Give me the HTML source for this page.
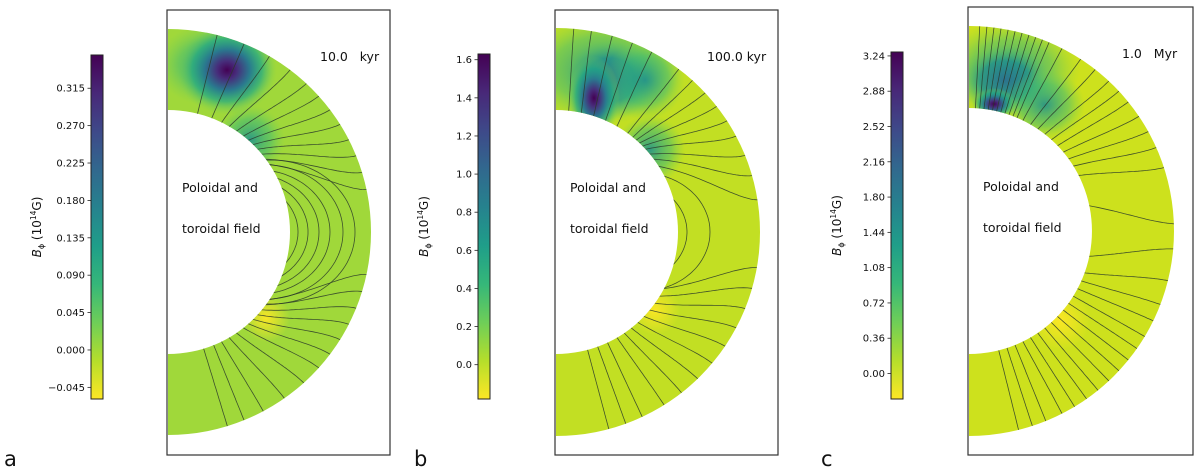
<!DOCTYPE html>
<html><head><meta charset="utf-8"><style>
html,body{margin:0;padding:0;background:#fff;width:1200px;height:474px;overflow:hidden}
svg{display:block}
text{font-family:"DejaVu Sans","Liberation Sans",sans-serif}
</style></head><body>
<svg id="fig" width="1200" height="474" viewBox="0 0 1200 474" xmlns="http://www.w3.org/2000/svg">
<defs>
<linearGradient id="viridis" x1="0" y1="1" x2="0" y2="0">
<stop offset="0" stop-color="#fde725"/><stop offset="0.111" stop-color="#b5de2b"/><stop offset="0.222" stop-color="#6ece58"/><stop offset="0.333" stop-color="#35b779"/><stop offset="0.444" stop-color="#1f9e89"/><stop offset="0.556" stop-color="#26828e"/><stop offset="0.667" stop-color="#31688e"/><stop offset="0.778" stop-color="#3e4989"/><stop offset="0.889" stop-color="#482878"/><stop offset="1" stop-color="#440154"/>
</linearGradient>
<radialGradient id="hot"><stop offset="0" stop-color="#440154"/><stop offset="0.2" stop-color="#472d7b"/><stop offset="0.45" stop-color="#2a788e"/><stop offset="0.7" stop-color="#22a884" stop-opacity="0.7"/><stop offset="1" stop-color="#7ad151" stop-opacity="0"/></radialGradient>
<radialGradient id="teal"><stop offset="0" stop-color="#21918c" stop-opacity="0.9"/><stop offset="0.6" stop-color="#35b779" stop-opacity="0.5"/><stop offset="1" stop-color="#6ece58" stop-opacity="0"/></radialGradient>
<radialGradient id="deep"><stop offset="0" stop-color="#2c728e" stop-opacity="1"/><stop offset="0.55" stop-color="#21918c" stop-opacity="0.8"/><stop offset="1" stop-color="#5ec962" stop-opacity="0"/></radialGradient>
<radialGradient id="yel"><stop offset="0" stop-color="#fde725" stop-opacity="0.95"/><stop offset="1" stop-color="#fde725" stop-opacity="0"/></radialGradient>
</defs>
</svg>
<script>
const ticksA=[0.315,0.270,0.225,0.180,0.135,0.090,0.045,0.000,-0.045];
const labelsA=["0.315","0.270","0.225","0.180","0.135","0.090","0.045","0.000","\u22120.045"];
const rangeA=[-0.059,0.355];
const ticksB=[1.6,1.4,1.2,1.0,0.8,0.6,0.4,0.2,0.0];
const labelsB=["1.6","1.4","1.2","1.0","0.8","0.6","0.4","0.2","0.0"];
const rangeB=[-0.18,1.63];
const ticksC=[3.24,2.88,2.52,2.16,1.80,1.44,1.08,0.72,0.36,0.00];
const labelsC=["3.24","2.88","2.52","2.16","1.80","1.44","1.08","0.72","0.36","0.00"];
const rangeC=[-0.26,3.28];
// open field lines: [inner footpoint angle, outer footpoint angle] (deg from north pole)
const openA=[[14,14],[21,22],[26,30],[30,37],[34,43],[38,48],[41,53],[44,58],[47,63],[50,68],[53,73],[56,78],
 [124,102],[127,107],[130,112],[133,117],[136,122],[139,127],[142,132],[146,138],[150,145],[154,152],[158,158],[163,163]];
const loopsA=[130,140,151,162,175,187];
const openB=[[6,5],[12,10],[18,16],[24,22],[30,28],[36,37],[39,42],[41,47],[43,52],[45,57],[47,62],[50,68],[53,74],[57,81],
 [118,100],[122,106],[126,112],[130,118],[134,124],[138,130],[142,136],[146,142],[150,148],[155,155],[160,160],[165,165]];
const loopsB=[131,154];
const openC=[[3,3],[5,5],[7,7],[9,9],[11,11],[13,13],[15,15],[17,17],[19,19],[21,21],[23,23],[26,27],[30,33],[34,38],[38,43],[42,47],[46,51],[50,56],[54,61],[58,66],[63,72],[78,88],
 [102,95],[110,104],[114,111],[118,116],[122,121],[126,125],[130,129],[134,133],[138,137],[142,141],[146,145],[150,149],[154,153],[158,158],[162,162],[166,166]];
const loopsC=[];

const NS="http://www.w3.org/2000/svg";
const svg=document.getElementById('fig');
function mk(tag,attrs,parent){const e=document.createElementNS(NS,tag);for(const k in attrs)e.setAttribute(k,attrs[k]);(parent||svg).appendChild(e);return e;}

const panels=[
 {id:'a',cb:[91,55,12,344],ticks:ticksA,labels:labelsA,range:rangeA,frame:[167,10,223,445],cx:168,cy:232,ro:203,ri:122,base:'#a0d83a',time:'10.0   kyr',tx:320,ty:61,letter:'a',lx:4,open:openA,loops:loopsA,
  blobs:[['teal',215,65,60,42],['hot',227,70,50,45],['teal',250,140,35,35],['yel',266,318,24,24]]},
 {id:'b',cb:[478,54,12,345],ticks:ticksB,labels:labelsB,range:rangeB,frame:[555,10,223,445],cx:556,cy:232,ro:204,ri:122,base:'#c2df23',time:'100.0 kyr',tx:707,ty:61,letter:'b',lx:414,open:openB,loops:loopsB,
  blobs:[['teal',600,70,80,55],['deep',610,80,45,40],['teal',645,80,40,40],['hot',594,98,26,42],['teal',650,150,35,35],['yel',655,310,25,25]]},
 {id:'c',cb:[891,52,12,347],ticks:ticksC,labels:labelsC,range:rangeC,frame:[968,7,225,448],cx:969,cy:231,ro:205,ri:123,base:'#cde11d',time:'1.0   Myr',tx:1122,ty:58,letter:'c',lx:821,open:openC,loops:loopsC,
  blobs:[['teal',1010,70,70,50],['deep',1005,80,45,35],['teal',1045,105,40,35],['hot',994,104,22,16],['yel',1060,320,30,30]]}
];

panels.forEach(P=>{
 const g=mk('g',{});
 
 
 const [bx,by,bw,bh]=P.cb;
 const y=v=>by+bh*(P.range[1]-v)/(P.range[1]-P.range[0]);
 const cbar=mk('rect',{x:bx,y:by,width:bw,height:bh,fill:'url(#viridis)',stroke:'#222','stroke-width':1},g);
 
 
 P.ticks.forEach((t,i)=>{
  mk('line',{x1:bx-3.5,x2:bx,y1:y(t),y2:y(t),stroke:'#222','stroke-width':0.8},g);
  const tl=mk('text',{x:bx-6,y:y(t)+3.5,'font-size':10,'text-anchor':'end',fill:'#111'},g);
  tl.textContent=P.labels[i];
  
  
 });
 const lab=mk('text',{transform:`translate(${bx-50},${by+bh/2}) rotate(-90)`,'font-size':12,'text-anchor':'middle',fill:'#111'},g);
 lab.innerHTML='<tspan font-style="italic">B</tspan><tspan font-size="8" dy="3">ϕ</tspan><tspan dy="-3"> (10</tspan><tspan font-size="7.5" dy="-5">14</tspan><tspan dy="5">G)</tspan>';
 
 
 const [fx,fy,fw,fh]=P.frame;
 const fr=mk('rect',{x:fx,y:fy,width:fw,height:fh,fill:'none',stroke:'#333','stroke-width':1.2},g);
 
 
 const {cx,cy,ro,ri}=P;
 const d=`M${cx},${cy-ro} A${ro},${ro} 0 0 1 ${cx},${cy+ro} L${cx},${cy+ri} A${ri},${ri} 0 0 0 ${cx},${cy-ri} Z`;
 const cp=mk('clipPath',{id:'clip'+P.id},svg.querySelector('defs'));
 mk('path',{d:d},cp);
 const ann=mk('path',{d:d,fill:P.base},g);
 
 
 const bg=mk('g',{'clip-path':`url(#clip${P.id})`},g);
 P.blobs.forEach(b=>{
  const el=mk('ellipse',{cx:b[1],cy:b[2],rx:b[3],ry:b[4],fill:`url(#${b[0]})`},bg);
  
  
 });
 const lg=mk('g',{'clip-path':`url(#clip${P.id})`},g);
 const pt=(r,th)=>[cx+r*Math.sin(th),cy-r*Math.cos(th)];
 const draw=pts=>{
  const pl=mk('polyline',{points:pts.map(q=>q[0].toFixed(1)+','+q[1].toFixed(1)).join(' '),fill:'none',stroke:'#2a3a2a','stroke-width':0.8,'stroke-opacity':0.85},lg);
  
  
 };
 P.open.forEach(([ti,to])=>{
  const a=ti*Math.PI/180,b=to*Math.PI/180,pts=[];
  for(let k=0;k<=40;k++){const s=k/40;const r=ri-1+(ro-ri+3)*s;const f=1-Math.pow(1-s,1.6);pts.push(pt(r,a+(b-a)*f));}
  draw(pts);
 });
 P.loops.forEach(L=>{
  const tf=Math.asin(Math.sqrt((ri-1)/L)),pts=[];
  for(let k=0;k<=60;k++){const th=tf+(Math.PI-2*tf)*k/60;pts.push(pt(L*Math.sin(th)**2,th));}
  draw(pts);
 });
 const t1=mk('text',{x:cx+14,y:cy-40,'font-size':12.5,fill:'#111'},g);t1.textContent='Poloidal and';
 
 
 const t2=mk('text',{x:cx+14,y:cy+1,'font-size':12.5,fill:'#111'},g);t2.textContent='toroidal field';
 
 
 const tt=mk('text',{x:P.tx,y:P.ty,'font-size':12.5,fill:'#111',style:'white-space:pre'},g);tt.textContent=P.time;
 
 
 const lt=mk('text',{x:P.lx,y:466,'font-size':21,fill:'#111','font-family':'"Liberation Serif",serif'},g);lt.textContent=P.letter;
 
 
});
</script>
</body></html>
